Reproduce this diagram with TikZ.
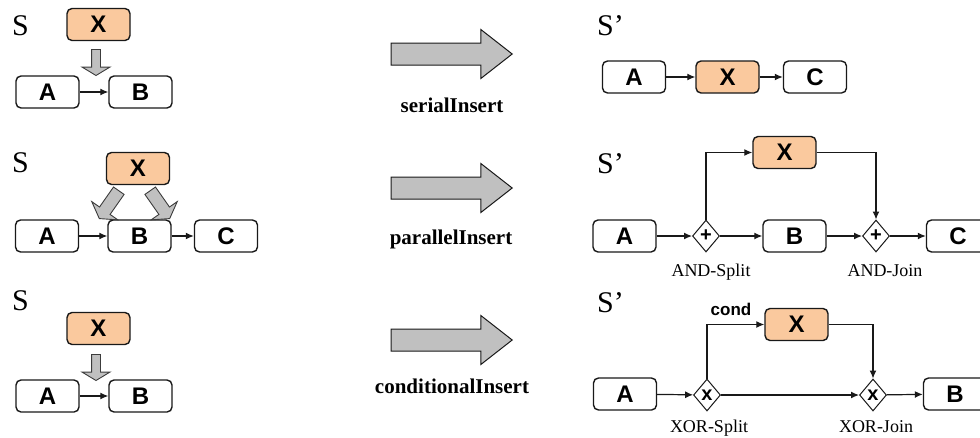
\documentclass[tikz,border=0pt]{standalone}
\usepackage{fontspec}
\setmainfont{Liberation Serif}
\newfontfamily\boxfont{Liberation Sans}
\usepackage{tikz}
\usetikzlibrary{arrows.meta,shapes.geometric,shapes.arrows}
\definecolor{taskorange}{RGB}{250,201,158}
\definecolor{shapegray}{RGB}{192,192,192}
\definecolor{inkblack}{RGB}{25,25,25}

\tikzset{
  task/.style={draw=inkblack, line width=1.4pt, rounded corners=5pt, fill=white, minimum width=63pt, minimum height=32pt, inner sep=0pt, font=\boxfont\bfseries\fontsize{24}{24}\selectfont},
  newtask/.style={task, fill=taskorange},
  gate/.style={diamond, draw=inkblack, line width=1pt, fill=white, minimum width=27pt, minimum height=32pt, inner sep=0pt, font=\boxfont\bfseries\fontsize{20}{20}\selectfont},
  flow/.style={-{Latex[length=8pt,width=7pt]}, line width=1.2pt, draw=inkblack},
  opname/.style={anchor=base, inner sep=0pt, font=\bfseries\fontsize{21}{21}\selectfont},
  gatename/.style={anchor=base, inner sep=0pt, font=\fontsize{18}{18}\selectfont},
  schema/.style={anchor=base west, inner sep=0pt, font=\fontsize{30}{30}\selectfont},
  bigarrow/.style={single arrow, draw=inkblack, line width=1pt, fill=shapegray, minimum height=121pt, inner sep=10.5pt, single arrow head extend=13.5pt, single arrow tip angle=76, anchor=tip},
  droparrow/.style={single arrow, draw=inkblack!85, line width=0.9pt, fill=shapegray, minimum height=26pt, inner sep=4pt, single arrow head extend=9.5pt, single arrow tip angle=118, anchor=tip},
}

\begin{document}
\begin{tikzpicture}[x=1pt,y=-1pt]
  \clip (0,0) rectangle (980,437);

  % serialInsert
  \node[schema] (s1) at (12,35) {S};
  \node[newtask] (x1) at (98.5,24.5) {X};
  \foreach \n/\t/\x in {a1/A/47.5, b1/B/140.5}
    \node[task] (\n) at (\x,92) {\t};
  \draw[flow] (a1) -- (b1);
  \node[droparrow, rotate=-90] (d1) at (96,76) {};
  \node[bigarrow] (op1) at (513,54) {};
  \node[opname] (op1name) at (452,112) {serialInsert};
  \node[schema] (s1r) at (597,35) {S’};
  \node[task] (a1r) at (634,77) {A};
  \node[newtask] (x1r) at (727.5,77) {X};
  \node[task] (c1r) at (815,77) {C};
  \draw[flow] (a1r) -- (x1r);
  \draw[flow] (x1r) -- (c1r);

  % parallelInsert
  \node[schema] (s2) at (12,172) {S};
  \node[newtask] (x2) at (138,168.5) {X};
  \foreach \n/\t/\x in {a2/A/47, b2/B/139.5, c2/C/226}
    \node[task] (\n) at (\x,236) {\t};
  \draw[flow] (a2) -- (b2);
  \draw[flow] (b2) -- (c2);
  \node[droparrow, rotate=-125, minimum height=34pt, inner sep=6pt] (d2l) at (99,219) {};
  \node[droparrow, rotate=-55, minimum height=34pt, inner sep=6pt] (d2r) at (170,219) {};
  \node[bigarrow] (op2) at (513,188) {};
  \node[opname] (op2name) at (451,244) {parallelInsert};
  \node[schema] (s2r) at (597,173) {S’};
  \node[task] (a2r) at (624.5,236) {A};
  \node[gate] (split2) at (706,236) {+};
  \node[task] (b2r) at (794.5,236) {B};
  \node[gate] (join2) at (876,236) {+};
  \node[task] (c2r) at (958,236) {C};
  \node[newtask] (x2r) at (784.5,152.5) {X};
  \draw[flow] (a2r) -- (split2);
  \draw[flow] (split2) -- (b2r);
  \draw[flow] (b2r) -- (join2);
  \draw[flow] (join2) -- (c2r);
  \draw[flow] (split2.north) |- (x2r.west);
  \draw[flow] (x2r.east) -| (join2.north);
  \node[gatename] (split2name) at (711,276) {AND-Split};
  \node[gatename] (join2name) at (885,276) {AND-Join};

  % conditionalInsert
  \node[schema] (s3) at (12,310) {S};
  \node[newtask] (x3) at (98.5,328.5) {X};
  \foreach \n/\t/\x in {a3/A/47.5, b3/B/140.5}
    \node[task] (\n) at (\x,396) {\t};
  \draw[flow] (a3) -- (b3);
  \node[droparrow, rotate=-90] (d3) at (96,381) {};
  \node[bigarrow] (op3) at (513,340) {};
  \node[opname] (op3name) at (452,393) {conditionalInsert};
  \node[schema] (s3r) at (597,312) {S’};
  \node[task] (a3r) at (625,394) {A};
  \node[gate] (split3) at (707,395) {x};
  \node[gate] (join3) at (873,395) {x};
  \node[task] (b3r) at (955,394) {B};
  \node[newtask] (x3r) at (796.5,324.5) {X};
  \draw[flow] (a3r) -- (split3);
  \draw[flow] (split3) -- (join3);
  \draw[flow] (join3) -- (b3r);
  \draw[flow] (split3.north) |- (x3r.west);
  \draw[flow] (x3r.east) -| (join3.north);
  \node[anchor=base, inner sep=0pt, font=\boxfont\bfseries\fontsize{17}{17}\selectfont] (cond) at (731,315) {cond};
  \node[gatename] (split3name) at (709,432) {XOR-Split};
  \node[gatename] (join3name) at (876,432) {XOR-Join};
\end{tikzpicture}
\end{document}
